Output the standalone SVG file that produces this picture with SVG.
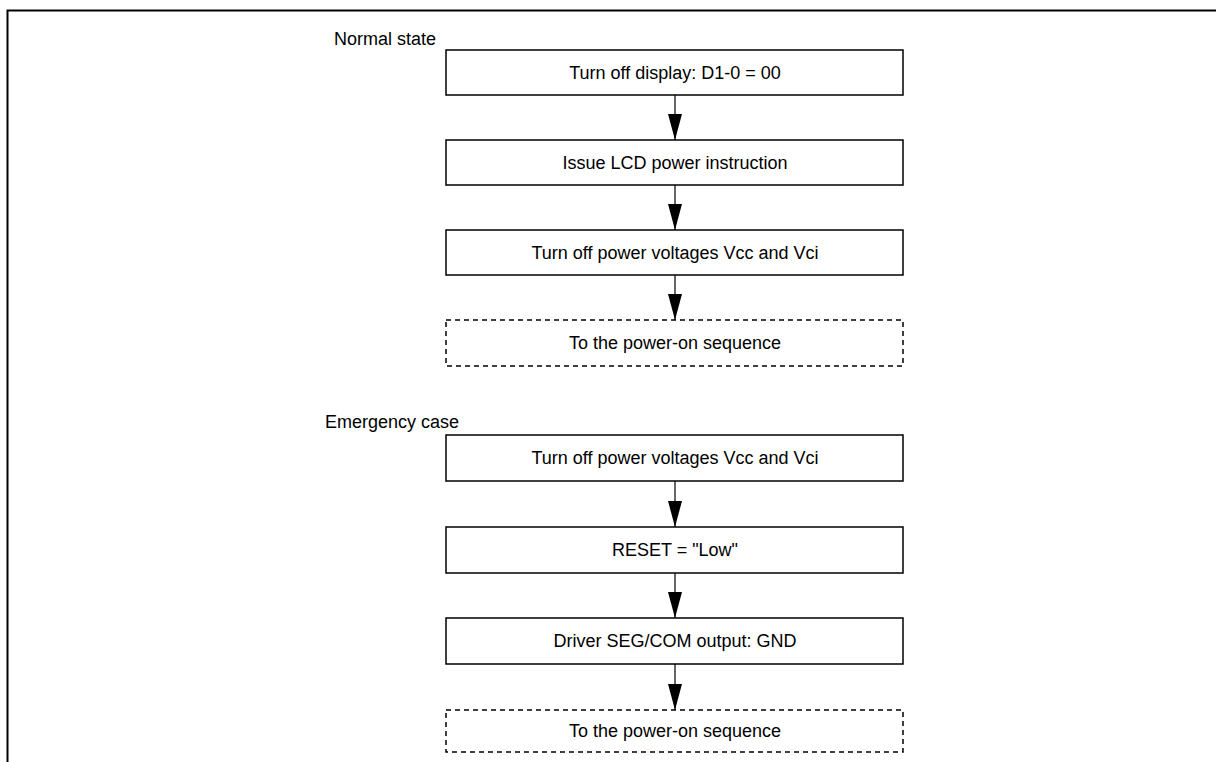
<svg xmlns="http://www.w3.org/2000/svg" width="1216" height="762" viewBox="0 0 1216 762">
<defs>
<style>
.box{fill:#fff;stroke:#000;stroke-width:1.5}
.dbox{fill:#fff;stroke:#000;stroke-width:1.5;stroke-dasharray:5,4}
.t{font-family:"Liberation Sans",Arial,sans-serif;font-size:18px;fill:#000;text-anchor:middle}
.lbl{font-family:"Liberation Sans",Arial,sans-serif;font-size:18px;fill:#000}
.c{stroke:#000;stroke-width:1.2;fill:none;marker-end:url(#ah)}
</style>
<marker id="ah" markerUnits="userSpaceOnUse" markerWidth="26" markerHeight="14" refX="26" refY="7" orient="auto" viewBox="0 0 26 14">
<path d="M0,0 L26,7 L0,14 Z" fill="#000"/>
</marker>
</defs>
<rect width="1216" height="762" fill="#fff"/>
<path d="M7.5,762 V10.5 H1216" fill="none" stroke="#000" stroke-width="2"/>
<text class="lbl" x="334" y="45">Normal state</text>
<text class="lbl" x="325" y="428">Emergency case</text>
<g id="connectors">
<line class="c" x1="675" y1="95" x2="675" y2="140"/>
<line class="c" x1="675" y1="185" x2="675" y2="230"/>
<line class="c" x1="675" y1="275" x2="675" y2="320"/>
<line class="c" x1="675" y1="481" x2="675" y2="527"/>
<line class="c" x1="675" y1="573" x2="675" y2="618"/>
<line class="c" x1="675" y1="664" x2="675" y2="710"/>
</g>
<g id="n1"><rect class="box" x="446" y="50" width="457" height="45"/><text class="t" x="675" y="79">Turn off display: D1-0 = 00</text></g>
<g id="n2"><rect class="box" x="446" y="140" width="457" height="45"/><text class="t" x="675" y="169">Issue LCD power instruction</text></g>
<g id="n3"><rect class="box" x="446" y="230" width="457" height="45"/><text class="t" x="675" y="259">Turn off power voltages Vcc and Vci</text></g>
<g id="n4"><rect class="dbox" x="446" y="320" width="457" height="46"/><text class="t" x="675" y="349">To the power-on sequence</text></g>
<g id="e1"><rect class="box" x="446" y="435" width="457" height="46"/><text class="t" x="675" y="464">Turn off power voltages Vcc and Vci</text></g>
<g id="e2"><rect class="box" x="446" y="527" width="457" height="46"/><text class="t" x="675" y="556">RESET = "Low"</text></g>
<g id="e3"><rect class="box" x="446" y="618" width="457" height="46"/><text class="t" x="675" y="647">Driver SEG/COM output: GND</text></g>
<g id="e4"><rect class="dbox" x="446" y="710" width="457" height="42"/><text class="t" x="675" y="737">To the power-on sequence</text></g>
</svg>
